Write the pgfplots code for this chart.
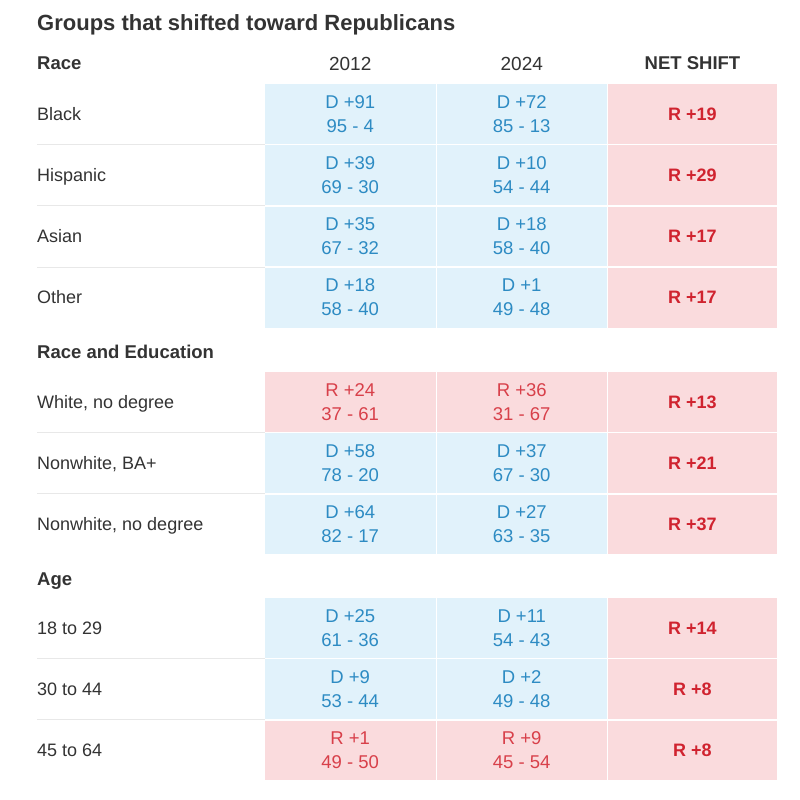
\documentclass[border=0pt]{standalone}
\usepackage{pgfplots}
\pgfplotsset{compat=1.18}
\usepackage{fontspec}
\setmainfont{Liberation Sans}
\definecolor{fillD}{HTML}{E1F2FB}
\definecolor{fillR}{HTML}{FADBDD}
\definecolor{txtD}{HTML}{2D8BC3}
\definecolor{txtR}{HTML}{D8404A}
\definecolor{netR}{HTML}{D0232F}
\definecolor{ink}{HTML}{333333}
\definecolor{sep}{HTML}{E8E8E8}
\newcommand\fcell{\fontsize{18.5}{20}\selectfont}
\newcommand\fnet{\fontsize{18}{20}\selectfont\bfseries}
\newcommand\flab{\fontsize{18}{20}\selectfont}
\newcommand\fhead{\fontsize{18.5}{20}\selectfont\bfseries}
\newcommand\fyear{\fontsize{19}{20}\selectfont}
\newcommand\ftitle{\fontsize{22}{24}\selectfont\bfseries}
% cell: x1, x2, y1, y2, party
\newcommand\cell[5]{\addplot[fill=fill#5,draw=none] coordinates {(#1,#3) (#2,#3) (#2,#4) (#1,#4)} -- cycle;}
% row of cells: y1, y2, party col1, party col2
\newcommand\cells[4]{\cell{265}{435.5}{#1}{#2}{#3}\cell{437}{606.5}{#1}{#2}{#4}\cell{608}{777}{#1}{#2}{R}}
% two-line text: x, baseline1, baseline2, party, line1, line2
\newcommand\two[6]{%
 \node[anchor=base,text=txt#4,font=\fcell] at (axis cs:#1,#2) {#5};
 \node[anchor=base,text=txt#4,font=\fcell] at (axis cs:#1,#3) {#6};}
\newcommand\net[2]{\node[anchor=base,text=netR,font=\fnet] at (axis cs:692.5,#1) {#2};}
\newcommand\lab[2]{\node[anchor=base west,text=ink,font=\flab,inner sep=0pt] at (axis cs:37,#1) {#2};}
\newcommand\sepline[1]{\addplot[sep,line width=1pt] coordinates {(37,#1) (265,#1)};}
\begin{document}
\begin{tikzpicture}
\begin{axis}[width=800pt,height=800pt,scale only axis,
  xmin=0,xmax=800,ymin=0,ymax=800,y dir=reverse,hide axis,clip=false]
\addplot[fill=white,draw=none] coordinates {(0,0) (800,0) (800,800) (0,800)} -- cycle;
% separators
\sepline{144.5}\sepline{205.75}\sepline{267}
\sepline{432.5}\sepline{493.75}
\sepline{658.5}\sepline{719.75}
% cells
\cells{84}{143.75}{D}{D}
\cells{145.25}{205}{D}{D}
\cells{206.5}{266.25}{D}{D}
\cells{267.75}{327.5}{D}{D}
\cells{372}{431.75}{R}{R}
\cells{433.25}{493}{D}{D}
\cells{494.5}{554.25}{D}{D}
\cells{598}{657.75}{D}{D}
\cells{659.25}{719}{D}{D}
\cells{720.5}{780.25}{R}{R}
% title and headers
\node[anchor=base west,text=ink,font=\ftitle,inner sep=0pt] at (axis cs:37,31) {Groups that shifted toward Republicans};
\node[anchor=base west,text=ink,font=\fhead,inner sep=0pt] at (axis cs:37,70) {Race};
\node[anchor=base,text=ink,font=\fyear] at (axis cs:350.25,70.5) {2012};
\node[anchor=base,text=ink,font=\fyear] at (axis cs:521.75,70.5) {2024};
\node[anchor=base,text=ink,font=\fhead] at (axis cs:692.5,70) {NET SHIFT};
\node[anchor=base west,text=ink,font=\fhead,inner sep=0pt] at (axis cs:37,358) {Race and Education};
\node[anchor=base west,text=ink,font=\fhead,inner sep=0pt] at (axis cs:37,585) {Age};
% Race
\lab{120}{Black}
\two{350.25}{108}{132}{D}{D +91}{95 - 4}
\two{521.75}{108}{132}{D}{D +72}{85 - 13}
\net{120}{R +19}
\lab{181.25}{Hispanic}
\two{350.25}{169.25}{193.25}{D}{D +39}{69 - 30}
\two{521.75}{169.25}{193.25}{D}{D +10}{54 - 44}
\net{181.25}{R +29}
\lab{242.5}{Asian}
\two{350.25}{230.5}{254.5}{D}{D +35}{67 - 32}
\two{521.75}{230.5}{254.5}{D}{D +18}{58 - 40}
\net{242.5}{R +17}
\lab{303.75}{Other}
\two{350.25}{291.75}{315.75}{D}{D +18}{58 - 40}
\two{521.75}{291.75}{315.75}{D}{D +1}{49 - 48}
\net{303.75}{R +17}
% Race and Education
\lab{408}{White, no degree}
\two{350.25}{396}{420}{R}{R +24}{37 - 61}
\two{521.75}{396}{420}{R}{R +36}{31 - 67}
\net{408}{R +13}
\lab{469.25}{Nonwhite, BA+}
\two{350.25}{457.25}{481.25}{D}{D +58}{78 - 20}
\two{521.75}{457.25}{481.25}{D}{D +37}{67 - 30}
\net{469.25}{R +21}
\lab{530.5}{Nonwhite, no degree}
\two{350.25}{518.5}{542.5}{D}{D +64}{82 - 17}
\two{521.75}{518.5}{542.5}{D}{D +27}{63 - 35}
\net{530.5}{R +37}
% Age
\lab{634}{18 to 29}
\two{350.25}{622}{646}{D}{D +25}{61 - 36}
\two{521.75}{622}{646}{D}{D +11}{54 - 43}
\net{634}{R +14}
\lab{695.25}{30 to 44}
\two{350.25}{683.25}{707.25}{D}{D +9}{53 - 44}
\two{521.75}{683.25}{707.25}{D}{D +2}{49 - 48}
\net{695.25}{R +8}
\lab{756.5}{45 to 64}
\two{350.25}{744.5}{768.5}{R}{R +1}{49 - 50}
\two{521.75}{744.5}{768.5}{R}{R +9}{45 - 54}
\net{756.5}{R +8}
\end{axis}
\end{tikzpicture}
\end{document}
